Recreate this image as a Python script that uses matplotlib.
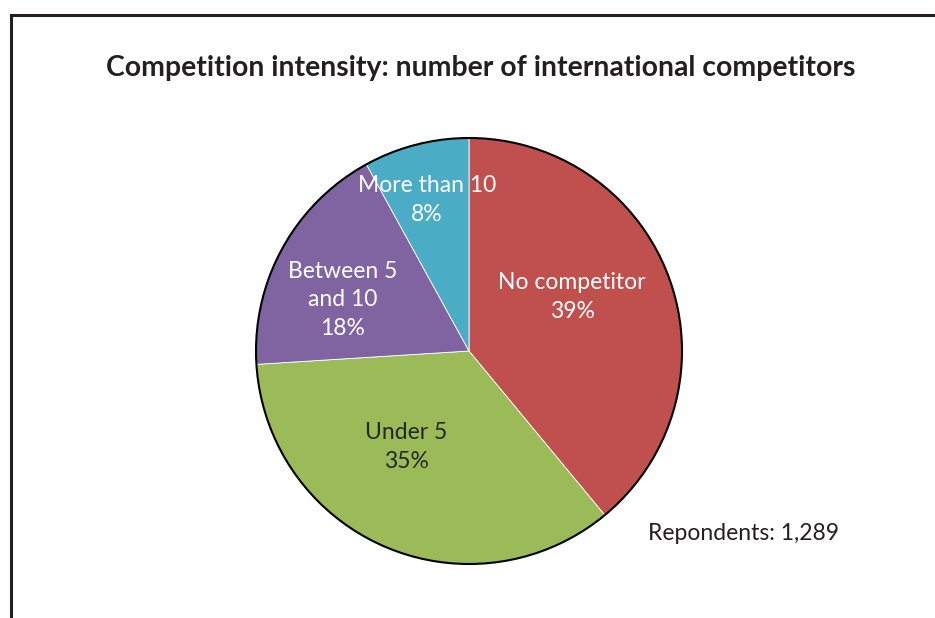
import matplotlib
matplotlib.use("Agg")
import matplotlib.pyplot as plt
from matplotlib.patches import Circle, Rectangle

plt.rcParams["font.family"] = ["Lato", "DejaVu Sans"]

categories = ["No competitor", "Under 5", "Between 5\nand 10", "More than 10"]
shares = [39, 35, 18, 8]
colors = ["#C0504D", "#9BBB59", "#8064A2", "#4BACC6"]
text_colors = ["white", "#262626", "white", "white"]
respondents = 1289

W, H = 935, 618
fig = plt.figure(figsize=(W / 100, H / 100), dpi=100)
ax = fig.add_axes([0, 0, 1, 1])

cx, cy, r = 469, H - 351, 213
wedges, _ = ax.pie(shares, colors=colors, startangle=90, counterclock=False,
                   center=(cx, cy), radius=r, frame=True,
                   wedgeprops=dict(edgecolor="white", linewidth=0.6))
ax.set_xlim(0, W)
ax.set_ylim(0, H)
ax.set_aspect("equal")
ax.axis("off")
ax.add_patch(Circle((cx, cy), r, fill=False, edgecolor="black", linewidth=1.5))

# chart frame (runs off the right and bottom edges)
ax.add_patch(Rectangle((10.5, -10), 940, H - 14.5 + 10, fill=False,
                       edgecolor="#231f20", linewidth=2.2))

# label anchor points, pixel offsets from pie centre
offsets = [(103, 54), (-63, -96), (-126, 51), (-42, 151)]
for name, pct, (dx, dy), tc in zip(categories, shares, offsets, text_colors):
    ax.text(cx + dx, cy + dy, f"{name}\n{pct}%", ha="center", va="center",
            color=tc, fontsize=16.5, linespacing=1.45)

ax.text(481, H - 68, "Competition intensity: number of international competitors",
        ha="center", va="center", fontsize=20.4, fontweight="bold", color="#231f20")
ax.text(648, H - 533, f"Repondents: {respondents:,}", ha="left", va="center",
        fontsize=16.5, color="#231f20")

fig.savefig("out.png", dpi=100)
